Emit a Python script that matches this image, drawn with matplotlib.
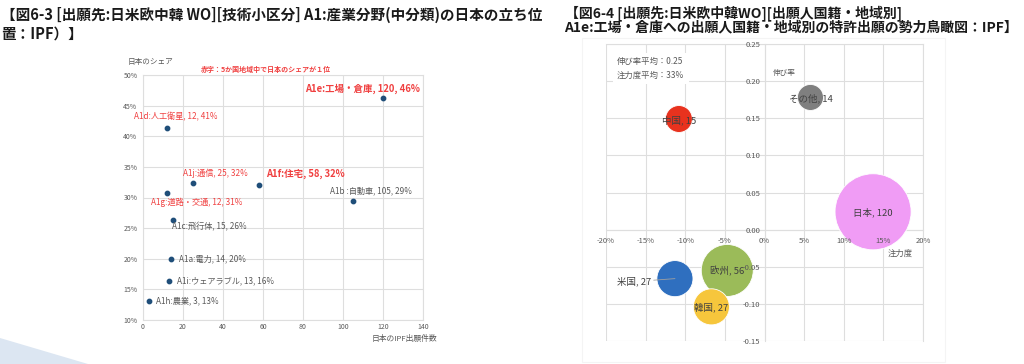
import numpy as np
import matplotlib
matplotlib.use("Agg")
import matplotlib.pyplot as plt
from matplotlib.patches import Polygon, Rectangle
from matplotlib.ticker import FuncFormatter

plt.rcParams['font.family'] = ['Noto Sans CJK JP', 'DejaVu Sans']

# =============================
# Data: left scatter (Fig 6-3)
# =============================
tech_names = ['A1e:工場・倉庫', 'A1d:人工衛星', 'A1j:通信', 'A1f:住宅', 'A1b :自動車',
              'A1g:道路・交通', 'A1c:飛行体', 'A1a:電力', 'A1i:ウェアラブル', 'A1h:農業']
jp_counts = [120, 12, 25, 58, 105, 12, 15, 14, 13, 3]
jp_share = [46.3, 41.4, 32.4, 32.1, 29.4, 30.8, 26.4, 20.0, 16.4, 13.1]
jp_top = [True, True, True, True, False, True, False, False, False, False]

# =============================
# Data: right bubble (Fig 6-4)
# =============================
nations = ['中国', 'その他', '日本', '米国', '欧州', '韓国']
focus = [-10.8, 5.8, 13.7, -11.3, -4.7, -6.7]        # 注力度 (%)
growth = [0.149, 0.178, 0.024, -0.066, -0.055, -0.104]  # 伸び率
apps = [15, 14, 120, 27, 56, 27]
growth_avg = 0.25
focus_avg = 33

# styles
label_offsets = [(37, 9), (9, 11), (22, 9), (7, 11), (18, 10),
                 (-16, -10), (-1, -7), (8, 0), (8, 0), (7, 0)]
label_ha = ['right', 'center', 'center', 'left', 'center',
            'left', 'left', 'left', 'left', 'left']
label_bold = [True, False, False, True, False, False, False, False, False, False]
bubble_colors = ['#e8321e', '#7f7f7f', '#f09cf5', '#2f6fbf', '#9bbb59', '#f6c63c']

RED = '#f04040'
GRAY = '#595959'
GRID = '#dedede'

W, H = 1024, 364
fig = plt.figure(figsize=(W / 100, H / 100), dpi=100)


def fx(px):
    return px / W


def fy(py):
    return 1 - py / H


# decorative shape bottom-left
fig.patches.append(Polygon([(fx(0), fy(338)), (fx(88), fy(364)), (fx(0), fy(364))],
                           closed=True, transform=fig.transFigure,
                           facecolor='#dce6f2', edgecolor='none', zorder=0))

# titles
fig.text(fx(1), fy(15), '【図6-3 [出願先:日米欧中韓 WO][技術小区分] A1:産業分野(中分類)の日本の立ち位',
         fontsize=10.5, fontweight='bold', va='center', ha='left', color='#1a1a1a')
fig.text(fx(1), fy(34), '置：IPF）】', fontsize=10.5, fontweight='bold', va='center',
         ha='left', color='#1a1a1a')
fig.text(fx(565), fy(13), '【図6-4 [出願先:日米欧中韓WO][出願人国籍・地域別]',
         fontsize=10, fontweight='bold', va='center', ha='left', color='#1a1a1a')
fig.text(fx(564), fy(27), 'A1e:工場・倉庫への出願人国籍・地域別の特許出願の勢力鳥瞰図：IPF】',
         fontsize=10, fontweight='bold', va='center', ha='left', color='#1a1a1a')

# =============================
# Left scatter
# =============================
ax1 = fig.add_axes([fx(143), fy(320), fx(423 - 143), (320 - 75) / H])
ax1.scatter(jp_counts, jp_share, s=10, color='#1f4e79', zorder=3)
ax1.set_xlim(0, 140)
ax1.set_ylim(10, 50)
ax1.set_xticks(np.arange(0, 141, 20))
ax1.set_yticks(np.arange(10, 51, 5))
ax1.yaxis.set_major_formatter(FuncFormatter(lambda v, p: f'{v:.0f}%'))
ax1.tick_params(length=0, labelsize=5, colors=GRAY, pad=4)
ax1.tick_params(axis='x', pad=2.5)
ax1.grid(True, color=GRID, linewidth=0.8)
ax1.set_axisbelow(True)
for sp in ax1.spines.values():
    sp.set_color(GRID)
    sp.set_linewidth(0.8)

for i, name in enumerate(tech_names):
    txt = f'{name}, {jp_counts[i]}, {jp_share[i]:.0f}%'
    col = RED if jp_top[i] else GRAY
    ax1.annotate(txt, (jp_counts[i], jp_share[i]), xytext=label_offsets[i],
                 textcoords='offset pixels', ha=label_ha[i], va='center',
                 fontsize=6.8 if label_bold[i] else 5.9,
                 fontweight='bold' if label_bold[i] else 'normal', color=col)

fig.text(fx(128), fy(62), '日本のシェア', fontsize=5.5, color=GRAY, va='center', ha='left')
fig.text(fx(266), fy(69), '赤字：5か国地域中で日本のシェアが１位', fontsize=5.0,
         color=RED, fontweight='bold', va='center', ha='center')
fig.text(fx(404), fy(339), '日本のIPF出願件数', fontsize=5.6, color=GRAY,
         va='center', ha='center')

# =============================
# Right bubble chart
# =============================
fig.patches.append(Rectangle((fx(582), fy(362)), fx(945 - 582), (362 - 38) / H,
                             transform=fig.transFigure, facecolor='none',
                             edgecolor='#f4f4f4', linewidth=0.8, zorder=0))

ax2 = fig.add_axes([fx(606), fy(341), fx(923 - 606), (341 - 44) / H])
ax2.scatter(focus, growth, s=[25 * a for a in apps], c=bubble_colors,
            edgecolors='white', linewidths=0.6, zorder=2)
ax2.set_xlim(-20, 20)
ax2.set_ylim(-0.15, 0.25)
ax2.set_xticks(np.arange(-20, 21, 5))
ax2.set_yticks(np.arange(-0.15, 0.251, 0.05))
ax2.xaxis.set_major_formatter(FuncFormatter(lambda v, p: f'{v:.0f}%'))
ax2.yaxis.set_major_formatter(FuncFormatter(lambda v, p: f'{v:.2f}'))
ax2.spines['left'].set_position('zero')
ax2.spines['bottom'].set_position('zero')
for sp in ax2.spines.values():
    sp.set_color(GRID)
    sp.set_linewidth(0.8)
    sp.set_zorder(1)
ax2.tick_params(length=0, labelsize=5.5, colors=GRAY, pad=3)
ax2.tick_params(axis='x', pad=5)
# grid under the bubbles, tick labels above them
for xv in ax2.get_xticks():
    ax2.axvline(xv, color=GRID, linewidth=0.8, zorder=1)
for yv in ax2.get_yticks():
    ax2.axhline(yv, color=GRID, linewidth=0.8, zorder=1)
ax2.set_axisbelow(False)

for i, nm in enumerate(nations):
    txt = f'{nm}, {apps[i]}'
    if nm == '米国':
        ax2.annotate(txt, (focus[i], growth[i]), xytext=(-24, -3),
                     textcoords='offset pixels', ha='right', va='center',
                     fontsize=6.8, color='#404040', zorder=5,
                     arrowprops=dict(arrowstyle='-', color='#a0a0a0', lw=0.6,
                                     shrinkA=0, shrinkB=0))
    else:
        ax2.annotate(txt, (focus[i], growth[i]), xytext=(0, -1),
                     textcoords='offset pixels', ha='center', va='center',
                     fontsize=6.8, color='#404040', zorder=5)

ax2.text(-18.6, 0.232, f'伸び率平均：{growth_avg:.2f}\n注力度平均：{focus_avg}%',
         fontsize=6, color=GRAY, va='top', ha='left', linespacing=1.7, zorder=4,
         bbox=dict(facecolor='white', edgecolor='none', pad=3))
fig.text(fx(773), fy(73), '伸び率', fontsize=5.5, color=GRAY, va='center', ha='left')
fig.text(fx(900), fy(253), '注力度', fontsize=6, color=GRAY, va='center', ha='center')

fig.savefig('out.png', dpi=100)
